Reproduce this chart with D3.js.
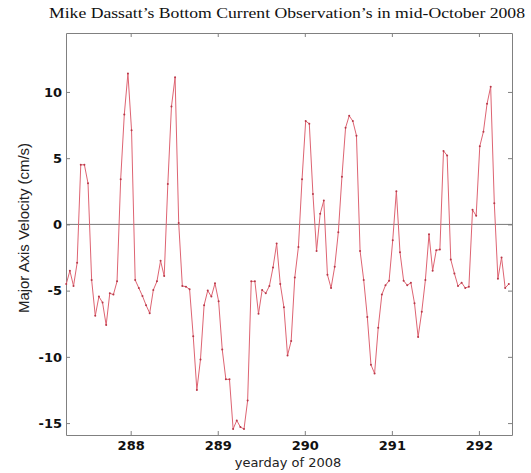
<!DOCTYPE html>
<html>
<head>
<meta charset="utf-8">
<script src="https://cdn.jsdelivr.net/npm/d3@7"></script>
<style>
  body { margin: 0; background: #fff; }
  svg { display: block; }
</style>
</head>
<body>
<svg id="chart" width="531" height="473"></svg>
<script>
// hourly samples starting at yearday 287.26
const startDay = 287.26;
const hoursPerSample = 1;

const velocity = [
  -4.5, -3.5, -4.65, -2.9, 4.5, 4.5, 3.1, -4.2, -6.9, -5.45,
  -5.9, -7.6, -5.2, -5.3, -4.3, 3.4, 8.3, 11.4, 7.1, -4.2,
  -4.8, -5.4, -6.1, -6.7, -4.95, -4.3, -2.75, -3.9, 3.05, 8.9,
  11.1, 0.1, -4.65, -4.7, -4.9, -8.45, -12.5, -10.2, -6.1, -5.0,
  -5.45, -4.45, -5.8, -9.45, -11.7, -11.7, -15.45, -14.8, -15.3, -15.45,
  -13.3, -4.3, -4.3, -6.75, -4.95, -5.2, -4.65, -3.25, -1.45, -4.5,
  -6.25, -9.9, -8.8, -4.0, -1.7, 3.4, 7.8, 7.6, 2.3, -2.0,
  0.8, 1.8, -3.8, -4.8, -3.2, -0.6, 3.6, 7.3, 8.2, 7.8,
  6.7, -2.0, -4.2, -7.0, -10.6, -11.25, -7.8, -5.3, -4.6, -4.25,
  -1.2, 2.5, -2.1, -4.25, -4.6, -4.4, -5.95, -8.5, -6.6, -4.2,
  -0.75, -3.5, -1.95, -1.9, 5.55, 5.2, -2.65, -3.7, -4.65, -4.4,
  -4.8, -4.7, 1.1, 0.65, 5.9, 7.0, 9.1, 10.4, 1.6, -4.1,
  -2.5, -4.8, -4.5
];

const xTicks = [288, 289, 290, 291, 292];
const yTicks = [-15, -10, -5, 0, 5, 10];

const title = "Mike Dassatt\u2019s Bottom Current Observation\u2019s in mid-October 2008";
const xTitle = "yearday of 2008";
const yTitle = "Major Axis Velocity (cm/s)";

const svg = d3.select("#chart");
const mLeft = 66, mRight = 512, mTop = 33, mBottom = 435;
const frameColor = "#808080";
const tickFont = "bold 13px 'DejaVu Sans', sans-serif";

const x = d3.scaleLinear().domain([287.257, 292.38]).range([mLeft, mRight]);
const y = d3.scaleLinear().domain([-15.9, 14.45]).range([mBottom, mTop]);

const points = velocity.map((v, i) => ({ t: startDay + i * hoursPerSample / 24, v: v }));

// frame + axes (ticks pointing inward on all sides)
function styleAxis(g) {
  g.selectAll("path, line").attr("stroke", frameColor).attr("stroke-width", 1);
}

svg.append("g")
  .attr("transform", `translate(0,${mBottom})`)
  .call(d3.axisBottom(x).tickValues(xTicks).tickSize(-4).tickSizeOuter(0).tickPadding(6).tickFormat(d => String(d)))
  .call(styleAxis)
  .call(g => g.selectAll("text").attr("fill", "#111").style("font", tickFont));

svg.append("g")
  .attr("transform", `translate(0,${mTop})`)
  .call(d3.axisTop(x).tickValues(xTicks).tickSize(-4).tickSizeOuter(0).tickFormat(""))
  .call(styleAxis);

svg.append("g")
  .attr("transform", `translate(${mLeft},0)`)
  .call(d3.axisLeft(y).tickValues(yTicks).tickSize(-4).tickSizeOuter(0).tickPadding(4).tickFormat(d => String(d)))
  .call(styleAxis)
  .call(g => g.selectAll("text").attr("fill", "#111").style("font", tickFont));

svg.append("g")
  .attr("transform", `translate(${mRight},0)`)
  .call(d3.axisRight(y).tickValues(yTicks).tickSize(-4).tickSizeOuter(0).tickFormat(""))
  .call(styleAxis);

// zero line
svg.append("line")
  .attr("x1", mLeft).attr("x2", mRight)
  .attr("y1", y(0)).attr("y2", y(0))
  .attr("stroke", "#777")
  .attr("stroke-width", 1);

// series
const line = d3.line().x(d => x(d.t)).y(d => y(d.v));

svg.append("path")
  .datum(points)
  .attr("fill", "none")
  .attr("stroke", "#de6472")
  .attr("stroke-width", 1)
  .attr("d", line);

svg.append("g")
  .selectAll("circle")
  .data(points)
  .enter()
  .append("circle")
  .attr("cx", d => x(d.t))
  .attr("cy", d => y(d.v))
  .attr("r", 1)
  .attr("fill", "#b83848");

// texts
svg.append("text")
  .attr("x", 287).attr("y", 18)
  .attr("text-anchor", "middle")
  .attr("textLength", 476)
  .attr("lengthAdjust", "spacingAndGlyphs")
  .style("font", "15px 'Liberation Serif', 'Times New Roman', serif")
  .attr("fill", "#111")
  .text(title);

svg.append("text")
  .attr("x", 288).attr("y", 467)
  .attr("text-anchor", "middle")
  .style("font", "13px 'DejaVu Sans', sans-serif")
  .attr("fill", "#222")
  .text(xTitle);

svg.append("text")
  .attr("transform", "translate(29,228) rotate(-90)")
  .attr("text-anchor", "middle")
  .attr("textLength", 170)
  .attr("lengthAdjust", "spacingAndGlyphs")
  .style("font", "14px 'Liberation Sans Narrow', 'Liberation Sans', sans-serif")
  .attr("fill", "#222")
  .text(yTitle);
</script>
</body>
</html>
